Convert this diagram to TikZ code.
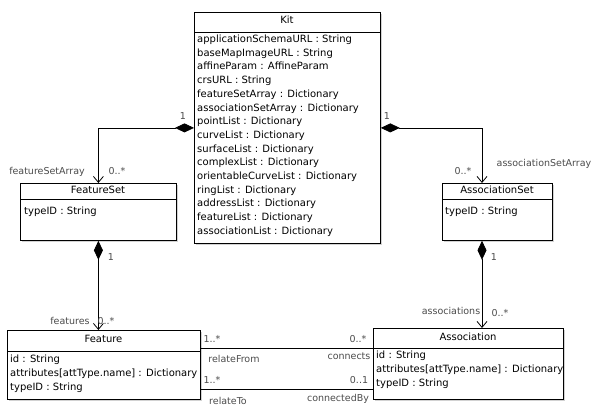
\documentclass[tikz,border=0pt]{standalone}
\usepackage{fontspec}
\setmainfont{DejaVu Sans}
\usetikzlibrary{arrows.meta,shadows}
\begin{document}
\begin{tikzpicture}[x=1pt,y=-1pt,
 classbox/.style={draw=black, line width=0.8pt, fill=white, anchor=north west, inner sep=0pt,
   drop shadow={shadow xshift=1.5pt,shadow yshift=-1.5pt,fill=black!35}},
 sepline/.style={line width=0.8pt},
 title/.style={font=\fontsize{10}{12}\selectfont, inner sep=0pt, text height=7.3pt, text depth=2.3pt},
 attr/.style={font=\fontsize{10}{12}\selectfont, inner sep=0pt, anchor=west, text height=7.3pt, text depth=2.3pt},
 role/.style={font=\fontsize{9.5}{11}\selectfont, text=black!70, inner sep=0pt, text height=6.8pt, text depth=2pt},
 mult/.style={role},
 comp/.style={line width=0.8pt, {Diamond[length=19pt,width=9pt]}-{Straight Barb[length=6pt,width=10pt]}},
 assoc/.style={line width=0.8pt}
]
\useasboundingbox[fill=white] (0,0) rectangle (600,415);

% Kit
\node[classbox, minimum width=186pt, minimum height=231pt] (kit) at (194,12) {};
\draw[sepline] ([yshift=-20pt]kit.north west) -- ([yshift=-20pt]kit.north east);
\node[title] (kitT) at (287,21) {Kit};
\foreach \t [count=\i from 0] in {applicationSchemaURL : String, baseMapImageURL : String, affineParam : AffineParam, crsURL : String, featureSetArray : Dictionary, associationSetArray : Dictionary, pointList : Dictionary, curveList : Dictionary, surfaceList : Dictionary, complexList : Dictionary, orientableCurveList : Dictionary, ringList : Dictionary, addressList : Dictionary, featureList : Dictionary, associationList : Dictionary}
  \node[attr] (kitA\i) at (197,40+13.7*\i) {\t};

% FeatureSet
\node[classbox, minimum width=156pt, minimum height=57pt] (fs) at (20,183) {};
\draw[sepline] ([yshift=-16pt]fs.north west) -- ([yshift=-16pt]fs.north east);
\node[title] (fsT) at (98,191) {FeatureSet};
\node[attr] (fsA) at (24,212) {typeID : String};

% AssociationSet
\node[classbox, minimum width=110pt, minimum height=57pt] (as) at (442,183) {};
\draw[sepline] ([yshift=-16pt]as.north west) -- ([yshift=-16pt]as.north east);
\node[title] (asT) at (497,191) {AssociationSet};
\node[attr] (asA) at (445,212) {typeID : String};

% Feature
\node[classbox, minimum width=193pt, minimum height=69pt] (feature) at (7,330) {};
\draw[sepline] ([yshift=-21pt]feature.north west) -- ([yshift=-21pt]feature.north east);
\node[title] (featureT) at (103.5,340) {Feature};
\node[attr] (featureA1) at (10,360) {id : String};
\node[attr] (featureA2) at (10,374) {attributes[attType.name] : Dictionary};
\node[attr] (featureA3) at (10,387.5) {typeID : String};

% Association
\node[classbox, minimum width=190pt, minimum height=71pt] (association) at (373,328) {};
\draw[sepline] ([yshift=-20pt]association.north west) -- ([yshift=-20pt]association.north east);
\node[title] (associationT) at (468,338) {Association};
\node[attr] (associationA1) at (376,356) {id : String};
\node[attr] (associationA2) at (376,370) {attributes[attType.name] : Dictionary};
\node[attr] (associationA3) at (376,383.5) {typeID : String};

% Connectors
\draw[comp] (kit.west) -| (fs.north);
\coordinate (asT0) at ([xshift=40pt]as.north west);
\draw[comp] (kit.east) -| (asT0);
\draw[comp] (fs.south) -- (fs.south |- feature.north);
\coordinate (asB) at ([xshift=40pt]as.south west);
\draw[comp] (asB) -- (asB |- association.north);
\coordinate (r1) at ([yshift=-18pt]feature.north east);
\coordinate (r2) at ([yshift=-59pt]feature.north east);
\draw[assoc] (r1) -- (r1 -| association.west);
\draw[assoc] (r2) -- (r2 -| association.west);

% Labels
\node[mult] (m1) at (183,117) {1};
\node[role] (l1) at (47,172) {featureSetArray};
\node[mult] (m2) at (117,172) {0..*};
\node[mult] (m3) at (387,117) {1};
\node[mult] (m4) at (463,172) {0..*};
\node[role] (l2) at (544,164) {associationSetArray};
\node[mult] (m5) at (111,258) {1};
\node[role] (l3) at (70,322) {features};
\node[mult] (m6) at (106,322) {0..*};
\node[mult] (m7) at (494,258) {1};
\node[role] (l4) at (451,312) {associations};
\node[mult] (m8) at (500,314) {0..*};
\node[mult] (m9) at (212,340) {1..*};
\node[mult] (m10) at (358,340) {0..*};
\node[role] (l5) at (234,360) {relateFrom};
\node[role] (l6) at (349,357) {connects};
\node[mult] (m11) at (212,381) {1..*};
\node[mult] (m12) at (359,381) {0..1};
\node[role] (l7) at (228,402) {relateTo};
\node[role] (l8) at (338,399) {connectedBy};
\end{tikzpicture}
\end{document}
